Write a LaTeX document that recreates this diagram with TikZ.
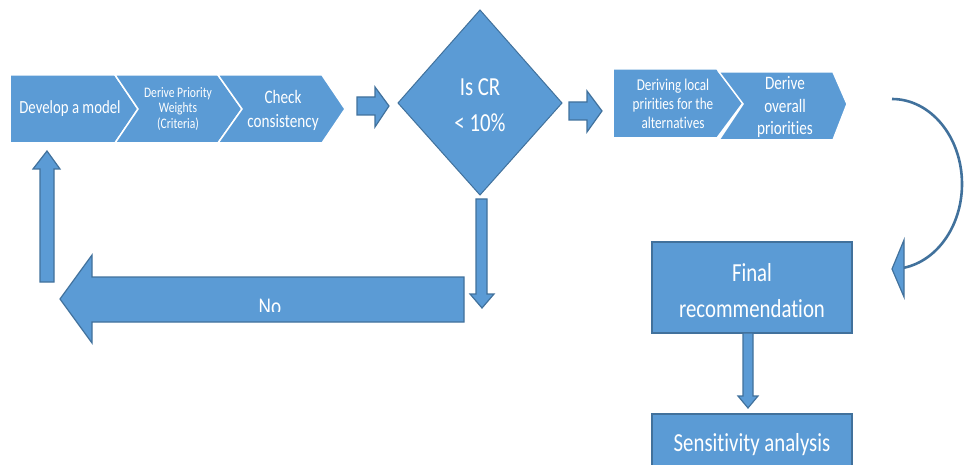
\documentclass[tikz,border=0pt]{standalone}
\usepackage{fontspec}
\setmainfont{Carlito}[Ligatures=NoCommon]
\definecolor{fillb}{HTML}{5B9BD5}
\definecolor{edgeb}{HTML}{41719C}
\newcommand\fsz[2]{\fontsize{#1}{#2}\selectfont}
\begin{document}
\begin{tikzpicture}[x=1pt,y=-1pt,
  chev/.style={fill=fillb,draw=white,line width=1.5pt,line join=miter},
  blk/.style={fill=fillb,draw=edgeb,line width=1.2pt,line join=miter},
  txt/.style={text=white,align=center,inner sep=0pt,xscale=0.8},
  boxn/.style={rectangle,fill=fillb,draw=edgeb,line width=1.2pt,inner sep=0pt}]
\useasboundingbox (0,0) rectangle (964,465);
% first chevron group
\path[chev] (10,75) -- (115,75) -- (138,109) -- (115,143) -- (10,143) -- cycle;
\path[chev] (115,75) -- (218,75) -- (242,109) -- (218,143) -- (115,143) -- (138,109) -- cycle;
\path[chev] (218,75) -- (322,75) -- (345,109) -- (322,143) -- (218,143) -- (242,109) -- cycle;
\node[txt,font=\fsz{18.5}{22}] (dev) at (70,109) {Develop a model};
\node[txt,font=\fsz{14.5}{15.5}] (dpw) at (178,109) {Derive Priority\\Weights\\(Criteria)};
\node[txt,font=\fsz{19}{24}] (chk) at (283,110) {Check\\consistency};
% arrow to diamond
\path[blk] (357,97) -- (375,97) -- (375,87) -- (389,106) -- (375,127) -- (375,115) -- (357,115) -- cycle;
% diamond
\path[fill=fillb,draw=edgeb,line width=1pt] (480,10) -- (562,103) -- (480,195) -- (398,103) -- cycle;
\node[txt,font=\fsz{26}{36}] (cr) at (480,105) {Is CR\\< 10\%};
% arrow to second group
\path[blk] (569,102) -- (587,102) -- (587,91) -- (602,111) -- (587,132) -- (587,120) -- (569,120) -- cycle;
% second chevron group
\path[chev] (613,69) -- (717,69) -- (743,103) -- (717,138) -- (613,138) -- cycle;
\path[chev] (719,72) -- (833,72) -- (847,104) -- (833,140) -- (719,140) -- (743,104) -- cycle;
\node[txt,font=\fsz{16.5}{19}] (dlp) at (673,104) {Deriving local\\pririties for the\\alternatives};
\node[txt,font=\fsz{19}{22.5}] (dop) at (785,107) {Derive\\overall\\priorities};
% curved connector
\draw[edgeb,line width=2.6pt] (892,99) arc[start angle=-90,end angle=83,x radius=70,y radius=85];
\path[blk] (904,240) -- (892,269) -- (904,297) -- cycle;
% down arrow from diamond
\path[blk] (476,199) -- (487,199) -- (487,294) -- (494,294) -- (482,308) -- (470,294) -- (476,294) -- cycle;
% big No arrow
\path[blk] (464,277) -- (92,277) -- (92,255) -- (60,299) -- (92,343) -- (92,322) -- (464,322) -- cycle;
\begin{scope}
\clip (100,280) rectangle (460,311);
\node[txt,font=\fsz{24}{28}] (no) at (270,306.5) {No};
\end{scope}
% up arrow
\path[blk] (40,282) -- (40,169) -- (33,169) -- (47,151) -- (60,169) -- (54,169) -- (54,282) -- cycle;
% final recommendation
\node[boxn,minimum width=200pt,minimum height=91pt] (fin) at (752,287.5) {};
\node[txt,font=\fsz{26}{36}] (fint) at (752,291) {Final\\recommendation};
\path[blk] (743,333) -- (753,333) -- (753,396) -- (758,396) -- (748,408) -- (738,396) -- (743,396) -- cycle;
\node[boxn,minimum width=200pt,minimum height=60pt] (sen) at (752,444) {};
\node[txt,font=\fsz{26}{30}] (sent) at (752,445) {Sensitivity analysis};
\end{tikzpicture}
\end{document}
